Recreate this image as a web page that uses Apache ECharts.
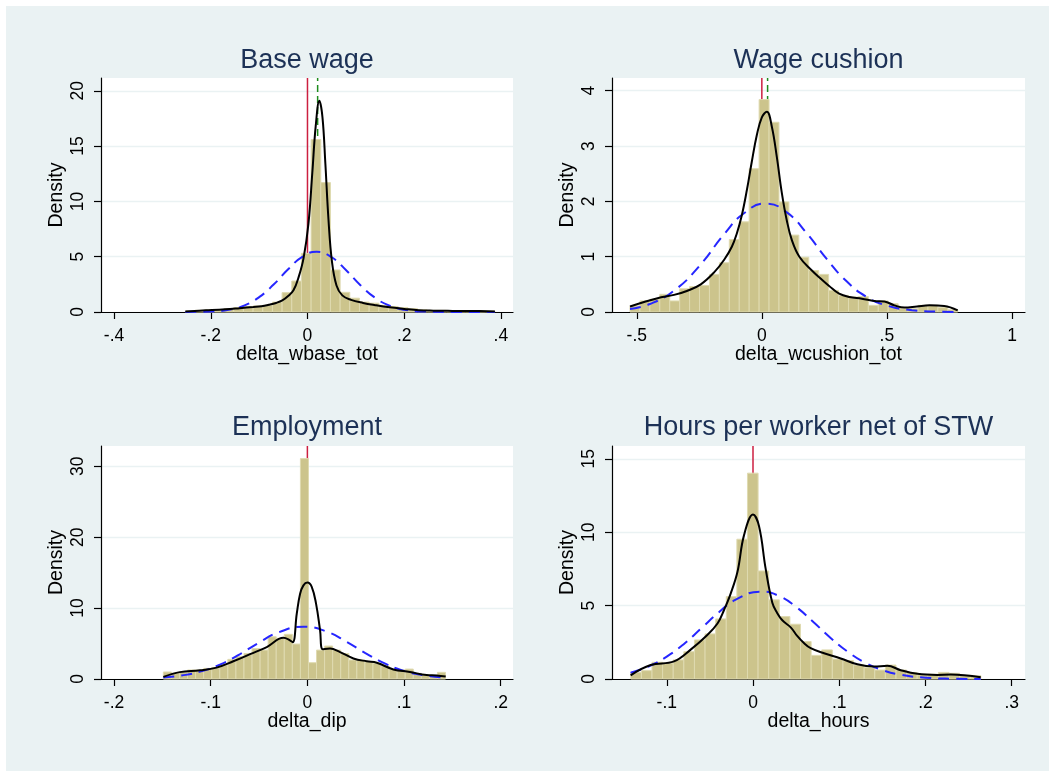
<!DOCTYPE html>
<html><head><meta charset="utf-8">
<script src="https://cdn.jsdelivr.net/npm/echarts@6/dist/echarts.min.js"></script>
<style>
html,body{margin:0;padding:0;background:#fff;}
#c{width:1049px;height:771px;background:linear-gradient(#eaf2f3,#eaf2f3) no-repeat 6px 6px / 1043px 765px, #fff;}
</style>
</head><body><div id="c"></div>
<script>
// ---------- DATA ----------
const titles = ['Base wage', 'Wage cushion', 'Employment', 'Hours per worker net of STW'];
const xNames = ['delta_wbase_tot', 'delta_wcushion_tot', 'delta_dip', 'delta_hours'];
const yName = 'Density';

const xTicks1 = [-0.4, -0.2, 0, 0.2, 0.4];
const xTicks2 = [-0.5, 0, 0.5, 1];
const xTicks3 = [-0.2, -0.1, 0, 0.1, 0.2];
const xTicks4 = [-0.1, 0, 0.1, 0.2, 0.3];
const yTicks1 = [0, 5, 10, 15, 20];
const yTicks2 = [0, 1, 2, 3, 4];
const yTicks3 = [0, 10, 20, 30];
const yTicks4 = [0, 5, 10, 15];

const xRange1 = [-0.427, 0.425];
const xRange2 = [-0.599, 1.052];
const xRange3 = [-0.2135, 0.2127];
const xRange4 = [-0.1635, 0.3154];
const yMax = [21.16, 4.23, 32.86, 15.87];

// histogram bins: first edge, bin width, heights (density)
const binStart = [-0.2525, -0.527, -0.149, -0.1417];
const binWidth = [0.02, 0.0397, 0.00834, 0.0123];
const hist1 = [0.1,0.15,0.2,0.2,0.3,0.4,0.5,0.55,0.6,0.9,1.75,2.8,5.3,15.6,11.7,3.8,1.78,1.25,0.9,0.8,0.6,0.5,0.4,0.3,0.2,0.15,0.15,0.1,0.1,0.1,0.1,0.1];
const hist2 = [0.11,0.2,0.23,0.32,0.2,0.42,0.46,0.48,0.68,0.89,1.31,1.63,2.59,3.84,3.43,1.99,1.39,0.99,0.75,0.68,0.39,0.3,0.27,0.28,0.12,0.2,0.15,0.06,0.06,0.12,0.12,0.08,0.04];
const hist3 = [0.99,0.8,0.94,1.27,1.27,1.5,1.6,1.97,2.77,3.15,3.6,4.3,4.08,5.96,5.73,6.3,4.93,31.08,2.3,4.08,4.65,4.08,3.6,2.68,2.68,2.44,2.2,1.83,1.36,1.27,1.4,0.8,0.56,0.52,0.94];
const hist4 = [0.45,0.57,1.14,1.07,1.3,1.86,2.66,3.07,4.09,5.61,9.52,14.02,7.36,5.39,4.25,3.73,2.55,1.61,1.98,1.36,1.25,0.95,0.77,0.61,0.95,0.61,0.43,0.27,0.32,0.45,0.39,0.25,0.23];

// kernel density (black)
const kde1 = [[-0.2525,0.05],[-0.21,0.15],[-0.17,0.25],[-0.14,0.35],[-0.112,0.45],[-0.095,0.52],[-0.08,0.65],[-0.065,0.82],[-0.052,1.05],[-0.04,1.45],[-0.029,1.96],[-0.018,3.2],[-0.008,4.9],[0.002,8.0],[0.01,12.6],[0.017,16.8],[0.0245,19.1],[0.031,17.6],[0.037,13.4],[0.0435,8.3],[0.0505,4.6],[0.06,2.4],[0.072,1.5],[0.09,1.1],[0.115,0.82],[0.14,0.62],[0.17,0.42],[0.2,0.28],[0.23,0.16],[0.26,0.12],[0.3,0.1],[0.34,0.09],[0.3875,0.05]];
const kde2 = [[-0.527,0.1],[-0.471,0.18],[-0.417,0.25],[-0.351,0.31],[-0.3,0.38],[-0.244,0.5],[-0.19,0.72],[-0.15,0.95],[-0.12,1.18],[-0.1,1.42],[-0.08,1.75],[-0.06,2.2],[-0.04,2.72],[-0.02,3.2],[0,3.52],[0.02,3.62],[0.04,3.35],[0.06,2.8],[0.08,2.15],[0.1,1.65],[0.12,1.3],[0.15,1.0],[0.2,0.75],[0.236,0.6],[0.269,0.47],[0.309,0.33],[0.35,0.27],[0.4,0.24],[0.45,0.2],[0.49,0.19],[0.53,0.12],[0.57,0.08],[0.62,0.1],[0.67,0.12],[0.729,0.11],[0.783,0.03]];
const kde3 = [[-0.149,0.3],[-0.132,0.97],[-0.111,1.22],[-0.094,1.6],[-0.0766,2.5],[-0.0593,3.5],[-0.042,4.5],[-0.0248,5.8],[-0.0197,5.6],[-0.0152,5.2],[-0.011,9.2],[-0.0076,12],[-0.0041,13.2],[0,13.6],[0.0045,13],[0.009,10.6],[0.0131,6.9],[0.0159,4.2],[0.0234,4.3],[0.0338,3.8],[0.0476,2.9],[0.0614,2.5],[0.0717,2.3],[0.089,1.35],[0.106,1.0],[0.1234,0.55],[0.1338,0.5],[0.1431,0.35]];
const kde4 = [[-0.1419,0.25],[-0.1187,0.95],[-0.0916,1.2],[-0.0723,2.0],[-0.053,3.0],[-0.041,3.8],[-0.0336,4.7],[-0.026,5.8],[-0.018,7.3],[-0.0104,9.8],[0,11.2],[0.007,10.4],[0.0147,7.5],[0.0224,5.2],[0.028,4.5],[0.034,4.0],[0.044,3.5],[0.051,2.95],[0.059,2.45],[0.0669,2.1],[0.0824,1.75],[0.1017,1.4],[0.121,1.0],[0.1404,0.85],[0.1558,0.9],[0.1713,0.6],[0.1906,0.35],[0.2138,0.28],[0.2293,0.3],[0.2641,0.12]];

// normal density (blue dashed)
const norm1 = [[-0.2525,0.004],[-0.2,0.047],[-0.16,0.23],[-0.13,0.6],[-0.1,1.34],[-0.07,2.48],[-0.04,3.86],[-0.01,5.01],[0.019,5.45],[0.05,4.95],[0.08,3.77],[0.11,2.4],[0.14,1.28],[0.17,0.57],[0.2,0.21],[0.24,0.043],[0.3,0.002],[0.3875,0]];
const norm2 = [[-0.527,0.056],[-0.45,0.14],[-0.35,0.39],[-0.25,0.83],[-0.15,1.41],[-0.07,1.79],[0.016,1.96],[0.1,1.8],[0.18,1.42],[0.26,0.955],[0.34,0.55],[0.42,0.27],[0.5,0.116],[0.6,0.032],[0.7,0.007],[0.783,0.001]];
const norm3 = [[-0.149,0.2],[-0.13,0.49],[-0.11,1.07],[-0.09,2.07],[-0.07,3.49],[-0.05,5.13],[-0.03,6.57],[-0.004,7.37],[0.02,6.68],[0.04,5.29],[0.06,3.65],[0.08,2.2],[0.1,1.15],[0.12,0.53],[0.143,0.18]];
const norm4 = [[-0.142,0.43],[-0.12,0.88],[-0.1,1.53],[-0.08,2.39],[-0.06,3.45],[-0.04,4.52],[-0.02,5.4],[0.009,5.95],[0.03,5.66],[0.05,4.91],[0.07,3.88],[0.09,2.8],[0.11,1.85],[0.13,1.11],[0.15,0.61],[0.17,0.3],[0.2,0.09],[0.23,0.02],[0.264,0.003]];

// reference lines: red at zero, green dashed at median
const zeroLine = [0, 0, 0, 0];
const medianLine = [0.021, 0.023, null, null];

// ---------- CHART ----------
const xTicks = [xTicks1, xTicks2, xTicks3, xTicks4];
const yTicks = [yTicks1, yTicks2, yTicks3, yTicks4];
const xRanges = [xRange1, xRange2, xRange3, xRange4];
const hists = [hist1, hist2, hist3, hist4];
const kdes = [kde1, kde2, kde3, kde4];
const norms = [norm1, norm2, norm3, norm4];

const FONT = '"Liberation Sans", Arial, Helvetica, sans-serif';
const BAR = '#ccc48c';
const BAR_EDGE = '#dfdab0';
const RED = '#cc1f40';
const GREEN = '#1e8c1e';
const BLUE = '#2626ff';
const TITLE_COLOR = '#1c3156';

const layout = [
  {left: 101, top: 78, width: 412, height: 234},
  {left: 612, top: 78, width: 413, height: 234},
  {left: 101, top: 446, width: 412, height: 233},
  {left: 612, top: 446, width: 413, height: 233}
];
const titleY = [61, 61, 428, 428];

function fmt(v) {
  if (Math.abs(v) < 1e-9) return '0';
  let s = String(+Number(v).toFixed(4));
  return s.replace(/^(-?)0\./, '$1.');
}

function renderBar(params, api) {
  const x0 = api.value(0), x1 = api.value(1), h = api.value(2);
  const p0 = api.coord([x0, h]);
  const p1 = api.coord([x1, 0]);
  return {
    type: 'rect',
    shape: {x: p0[0], y: p0[1], width: p1[0] - p0[0], height: p1[1] - p0[1]},
    style: {fill: BAR, stroke: BAR_EDGE, lineWidth: 1}
  };
}

const grids = layout.map(l => Object.assign({show: true, backgroundColor: '#fff', borderWidth: 0, containLabel: false}, l));

const xAxes = layout.map((l, i) => ({
  type: 'value', gridIndex: i, min: xRanges[i][0], max: xRanges[i][1],
  name: xNames[i], nameLocation: 'middle', nameGap: 33, nameMoveOverlap: false,
  nameTextStyle: {fontSize: 19.5, fontFamily: FONT, color: '#000'},
  axisLine: {show: true, onZero: false, lineStyle: {color: '#000', width: 1.2}},
  axisTick: {show: true, length: 7, customValues: xTicks[i], lineStyle: {color: '#000', width: 1.2}},
  axisLabel: {show: true, customValues: xTicks[i], formatter: fmt, fontSize: 17.5, fontFamily: FONT, color: '#000', margin: 15},
  splitLine: {show: false}
}));

const yAxes = layout.map((l, i) => ({
  type: 'value', gridIndex: i, min: 0, max: yMax[i],
  name: yName, nameLocation: 'middle', nameGap: 34, nameRotate: 90, nameMoveOverlap: false,
  nameTextStyle: {fontSize: 19.5, fontFamily: FONT, color: '#000'},
  axisLine: {show: true, onZero: false, lineStyle: {color: '#000', width: 1.2}},
  axisTick: {show: true, length: 7, customValues: yTicks[i], lineStyle: {color: '#000', width: 1.2}},
  axisLabel: {show: true, customValues: yTicks[i], formatter: fmt, rotate: 90, fontSize: 17.5, fontFamily: FONT, color: '#000', margin: 14},
  splitLine: {show: true, lineStyle: {color: '#eaf2f3', width: 1.4}}
}));

const series = [];
for (let i = 0; i < 4; i++) {
  series.push({
    type: 'line', xAxisIndex: i, yAxisIndex: i, z: 1, silent: true, symbol: 'none',
    data: [[zeroLine[i], 0], [zeroLine[i], yMax[i]]],
    lineStyle: {color: RED, width: 1.5}
  });
  if (medianLine[i] !== null) {
    series.push({
      type: 'line', xAxisIndex: i, yAxisIndex: i, z: 1, silent: true, symbol: 'none',
      data: [[medianLine[i], 0], [medianLine[i], yMax[i]]],
      lineStyle: {color: GREEN, width: 1.5, type: [7, 4]}
    });
  }
  const bars = hists[i].map((h, k) => [binStart[i] + k * binWidth[i], binStart[i] + (k + 1) * binWidth[i], h]);
  series.push({
    type: 'custom', xAxisIndex: i, yAxisIndex: i, z: 2, silent: true,
    renderItem: renderBar, encode: {x: [0, 1], y: 2}, data: bars
  });
  series.push({
    type: 'line', xAxisIndex: i, yAxisIndex: i, z: 3, silent: true, symbol: 'none',
    smooth: 0.5, data: norms[i],
    lineStyle: {color: BLUE, width: 2, type: [11, 7]}
  });
  series.push({
    type: 'line', xAxisIndex: i, yAxisIndex: i, z: 4, silent: true, symbol: 'none',
    smooth: 0.4, data: kdes[i],
    lineStyle: {color: '#000', width: 2}
  });
}

const graphic = titles.map((t, i) => ({
  type: 'text', x: layout[i].left + layout[i].width / 2, y: titleY[i], silent: true,
  style: {text: t, font: '27px ' + FONT, fill: TITLE_COLOR,
          align: 'center', verticalAlign: 'middle', textAlign: 'center', textVerticalAlign: 'middle'}
}));

const chart = echarts.init(document.getElementById('c'), null, {renderer: 'canvas'});
chart.setOption({
  backgroundColor: 'transparent',
  animation: false,
  grid: grids,
  xAxis: xAxes,
  yAxis: yAxes,
  series: series,
  graphic: graphic
});
</script>
</body></html>
